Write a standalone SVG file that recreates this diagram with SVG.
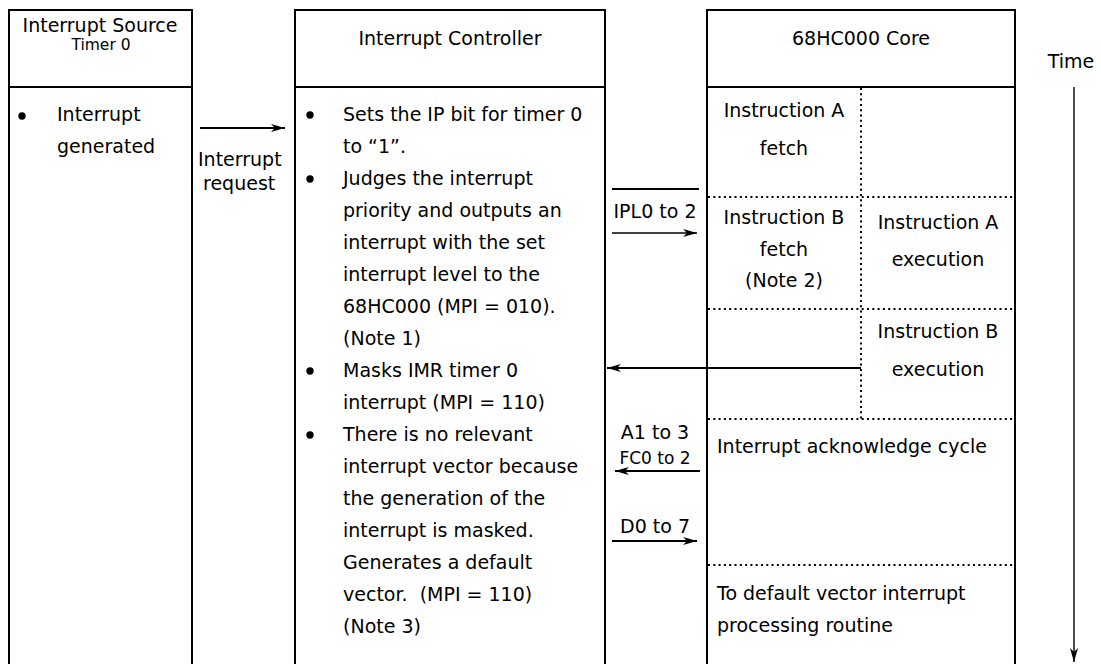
<svg xmlns="http://www.w3.org/2000/svg" width="1101" height="664" viewBox="0 0 1101 664">
<style>
  .t { font-family: "DejaVu Sans", "Liberation Sans", sans-serif; font-size: 19px; fill: #000; }
  .s { font-size: 17px; }
  .xs { font-size: 15.5px; }
  .m { text-anchor: middle; }
  .box { fill: none; stroke: #000; stroke-width: 2; }
  .dot { fill: none; stroke: #000; stroke-width: 2; stroke-dasharray: 2 3.3; }
  .ln { fill: none; stroke: #000; stroke-width: 2; }
  .thin { fill: none; stroke: #000; stroke-width: 1.4; }
  .bul { fill: #000; }
</style>
<defs>
  <marker id="ah" viewBox="0 0 14 8" refX="14" refY="4" markerWidth="14" markerHeight="8" markerUnits="userSpaceOnUse" orient="auto">
    <path d="M0,0 L14,4 L0,8 L4,4 z" fill="#000"/>
  </marker>
</defs>
<rect width="1101" height="664" fill="#fff"/>

<g id="source">
  <path class="box" d="M9,670 V10 H192 V670 M9,87 H192"/>
  <text class="t m" x="100" y="32">Interrupt Source</text>
  <text class="t xs m" x="101" y="50">Timer 0</text>
  <circle class="bul" cx="22" cy="116" r="3.7"/>
  <text class="t" x="57" y="121">Interrupt</text>
  <text class="t" x="57" y="153">generated</text>
</g>

<g id="controller">
  <path class="box" d="M295,670 V10 H605 V670 M295,87 H605"/>
  <text class="t m" x="450" y="45">Interrupt Controller</text>
  <circle class="bul" cx="310" cy="115" r="3.7"/>
  <circle class="bul" cx="310" cy="179" r="3.7"/>
  <circle class="bul" cx="310" cy="371" r="3.7"/>
  <circle class="bul" cx="310" cy="435" r="3.7"/>
  <text class="t" x="343" y="121">Sets the IP bit for timer 0</text>
  <text class="t" x="343" y="153">to “1”.</text>
  <text class="t" x="343" y="185">Judges the interrupt</text>
  <text class="t" x="343" y="217">priority and outputs an</text>
  <text class="t" x="343" y="249">interrupt with the set</text>
  <text class="t" x="343" y="281">interrupt level to the</text>
  <text class="t" x="343" y="313">68HC000 (MPI = 010).</text>
  <text class="t" x="343" y="345">(Note 1)</text>
  <text class="t" x="343" y="377">Masks IMR timer 0</text>
  <text class="t" x="343" y="409">interrupt (MPI = 110)</text>
  <text class="t" x="343" y="441">There is no relevant</text>
  <text class="t" x="343" y="473">interrupt vector because</text>
  <text class="t" x="343" y="505">the generation of the</text>
  <text class="t" x="343" y="537">interrupt is masked.</text>
  <text class="t" x="343" y="569">Generates a default</text>
  <text class="t" x="343" y="601" xml:space="preserve">vector.  (MPI = 110)</text>
  <text class="t" x="343" y="633">(Note 3)</text>
</g>

<g id="core">
  <path class="box" d="M707,670 V10 H1015 V670 M707,87 H1015"/>
  <text class="t m" x="861" y="45">68HC000 Core</text>
  <path class="dot" d="M861,88 V419 M708,197 H1014 M708,309 H1014 M708,419 H1014 M708,565 H1014"/>
  <text class="t m" x="784" y="117">Instruction A</text>
  <text class="t m" x="784" y="155">fetch</text>
  <text class="t m" x="784" y="224">Instruction B</text>
  <text class="t m" x="784" y="256">fetch</text>
  <text class="t m" x="784" y="287">(Note 2)</text>
  <text class="t m" x="938" y="229">Instruction A</text>
  <text class="t m" x="938" y="266">execution</text>
  <text class="t m" x="938" y="338">Instruction B</text>
  <text class="t m" x="938" y="376">execution</text>
  <text class="t" x="717" y="453">Interrupt acknowledge cycle</text>
  <text class="t" x="717" y="600">To default vector interrupt</text>
  <text class="t" x="717" y="632">processing routine</text>
</g>

<g id="time">
  <text class="t m" x="1071" y="68">Time</text>
  <line class="thin" x1="1074" y1="87" x2="1074" y2="662" marker-end="url(#ah)"/>
</g>

<g id="connectors">
  <line class="ln" x1="200" y1="128" x2="285" y2="128" marker-end="url(#ah)"/>
  <text class="t" x="198" y="166">Interrupt</text>
  <text class="t" x="203" y="190">request</text>

  <line class="ln" x1="612" y1="189" x2="699" y2="189"/>
  <text class="t m" x="655" y="218">IPL0 to 2</text>
  <line class="thin" x1="612" y1="233" x2="697" y2="233" marker-end="url(#ah)"/>

  <line class="ln" x1="861" y1="368" x2="607" y2="368" marker-end="url(#ah)"/>

  <text class="t m" x="655" y="439">A1 to 3</text>
  <text class="t s m" x="655" y="464">FC0 to 2</text>
  <line class="ln" x1="700" y1="471" x2="615" y2="471" marker-end="url(#ah)"/>

  <text class="t m" x="655" y="533">D0 to 7</text>
  <line class="ln" x1="612" y1="541" x2="697" y2="541" marker-end="url(#ah)"/>
</g>
</svg>
